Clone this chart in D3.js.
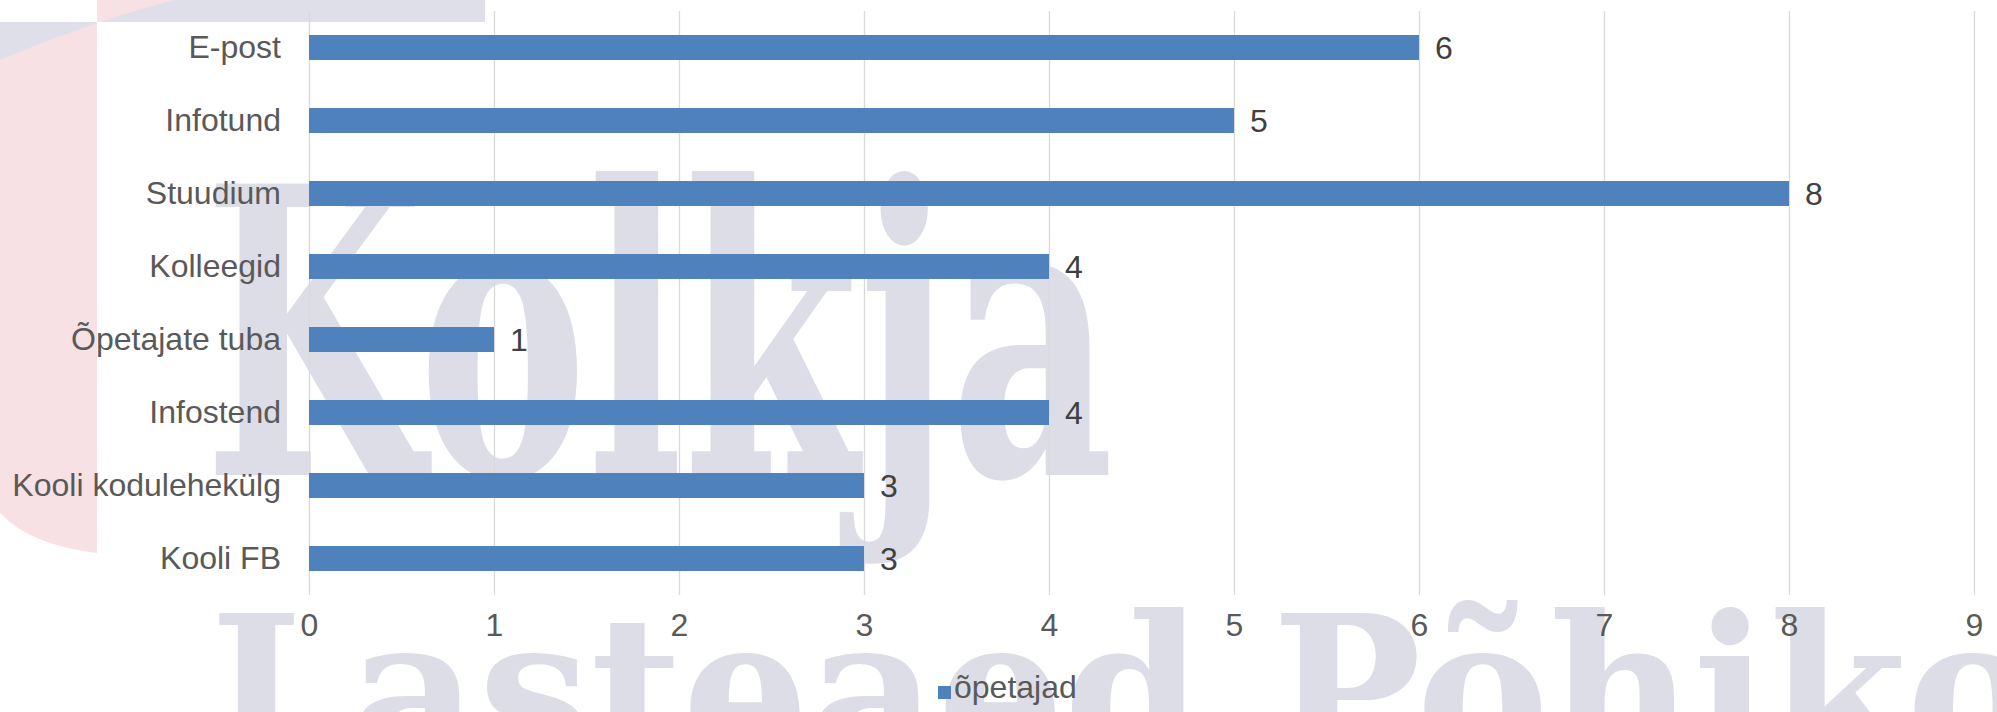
<!DOCTYPE html>
<html>

<head>
    <meta charset="utf-8">
    <title>Infokanalid - õpetajad</title>
    <script src="https://d3js.org/d3.v7.min.js"></script>
    <style>
        body {
            margin: 0;
            background: #ffffff;
        }

        .grid line {
            stroke: #d9d9d9;
            stroke-width: 1.3px;
        }

        .label {
            font-family: "Liberation Sans", Arial, sans-serif;
            font-size: 32px;
            fill: #595959;
        }
    </style>
</head>

<body>
    <div id="chart"></div>
    <script>
        // chart data
        const categories = ["E-post", "Infotund", "Stuudium", "Kolleegid", "Õpetajate tuba", "Infostend", "Kooli kodulehekülg", "Kooli FB"];
        const values = [6, 5, 8, 4, 1, 4, 3, 3];
        const xTicks = [0, 1, 2, 3, 4, 5, 6, 7, 8, 9];
        const seriesName = "õpetajad";

        const width = 1997, height = 712;
        const plot = { left: 309, right: 1974, top: 11, bottom: 595 };

        const svg = d3.select("#chart")
            .append("svg")
            .attr("width", width)
            .attr("height", height);

        // background of the page the chart sat on (logo corner + watermark)
        const defs = svg.append("defs");
        const clip = defs.append("clipPath").attr("id", "logo-clip");
        clip.append("rect").attr("x", 97).attr("y", 0).attr("width", 388).attr("height", 22);
        clip.append("rect").attr("x", 0).attr("y", 22).attr("width", 97).attr("height", 560);

        const wm = svg.append("g").attr("class", "watermark");
        const logo = wm.append("g").attr("clip-path", "url(#logo-clip)");
        logo.append("rect")
            .attr("x", 0).attr("y", 0).attr("width", 485).attr("height", 80)
            .attr("fill", "#dfdfe9");
        logo.append("path")
            .attr("d", "M97,0 L175,0 Q95,20 0,60 L0,513 Q30,545 97,553 Z")
            .attr("fill", "#f8e1e5");

        wm.append("text")
            .attr("x", 204)
            .attr("y", 475)
            .attr("textLength", 910)
            .attr("lengthAdjust", "spacingAndGlyphs")
            .style("font-family", "'DejaVu Serif'")
            .style("font-weight", "bold")
            .style("font-size", "400px")
            .style("fill", "#dddde7")
            .text("Kolkja");
        wm.append("text")
            .attr("x", 210)
            .attr("y", 762)
            .attr("textLength", 2037)
            .attr("lengthAdjust", "spacingAndGlyphs")
            .style("font-family", "'DejaVu Serif'")
            .style("font-weight", "bold")
            .style("font-size", "205px")
            .style("fill", "#dddde7")
            .text("Lasteaed Põhikool");

        const x = d3.scaleLinear()
            .domain([0, 9])
            .range([plot.left, plot.right]);

        const y = d3.scaleBand()
            .domain(categories)
            .range([plot.top, plot.bottom])
            .paddingInner(0.658)
            .paddingOuter(0.329);

        // vertical gridlines + value tick labels
        const xAxis = svg.append("g")
            .attr("class", "grid")
            .attr("transform", `translate(0,${plot.bottom})`)
            .call(d3.axisBottom(x)
                .tickValues(xTicks)
                .tickSize(-(plot.bottom - plot.top))
                .tickPadding(18)
                .tickFormat(d3.format("d")));
        xAxis.select(".domain").remove();
        xAxis.selectAll("text")
            .attr("class", "label")
            .attr("fill", null);

        // category labels
        const yAxis = svg.append("g")
            .attr("transform", `translate(${plot.left},0)`)
            .call(d3.axisLeft(y).tickSize(0).tickPadding(28));
        yAxis.select(".domain").remove();
        yAxis.selectAll("text")
            .attr("class", "label")
            .attr("fill", null);

        const rows = categories.map((c, i) => ({ category: c, value: values[i] }));

        svg.append("g")
            .selectAll("rect")
            .data(rows)
            .join("rect")
            .attr("x", x(0))
            .attr("y", (d) => y(d.category))
            .attr("width", (d) => x(d.value) - x(0))
            .attr("height", y.bandwidth())
            .attr("fill", "#4f81bd");

        svg.append("g")
            .selectAll("text")
            .data(rows)
            .join("text")
            .attr("class", "label")
            .attr("x", (d) => x(d.value) + 16)
            .attr("y", (d) => y(d.category) + y.bandwidth() / 2)
            .attr("dy", "0.35em")
            .style("fill", "#404040")
            .text((d) => d.value);

        // legend
        const legend = svg.append("g").attr("transform", "translate(938,686)");
        legend.append("rect")
            .attr("width", 13)
            .attr("height", 13)
            .attr("fill", "#4f81bd");
        legend.append("text")
            .attr("class", "label")
            .attr("x", 16)
            .attr("y", 12)
            .text(seriesName);
    </script>

</body>

</html>
